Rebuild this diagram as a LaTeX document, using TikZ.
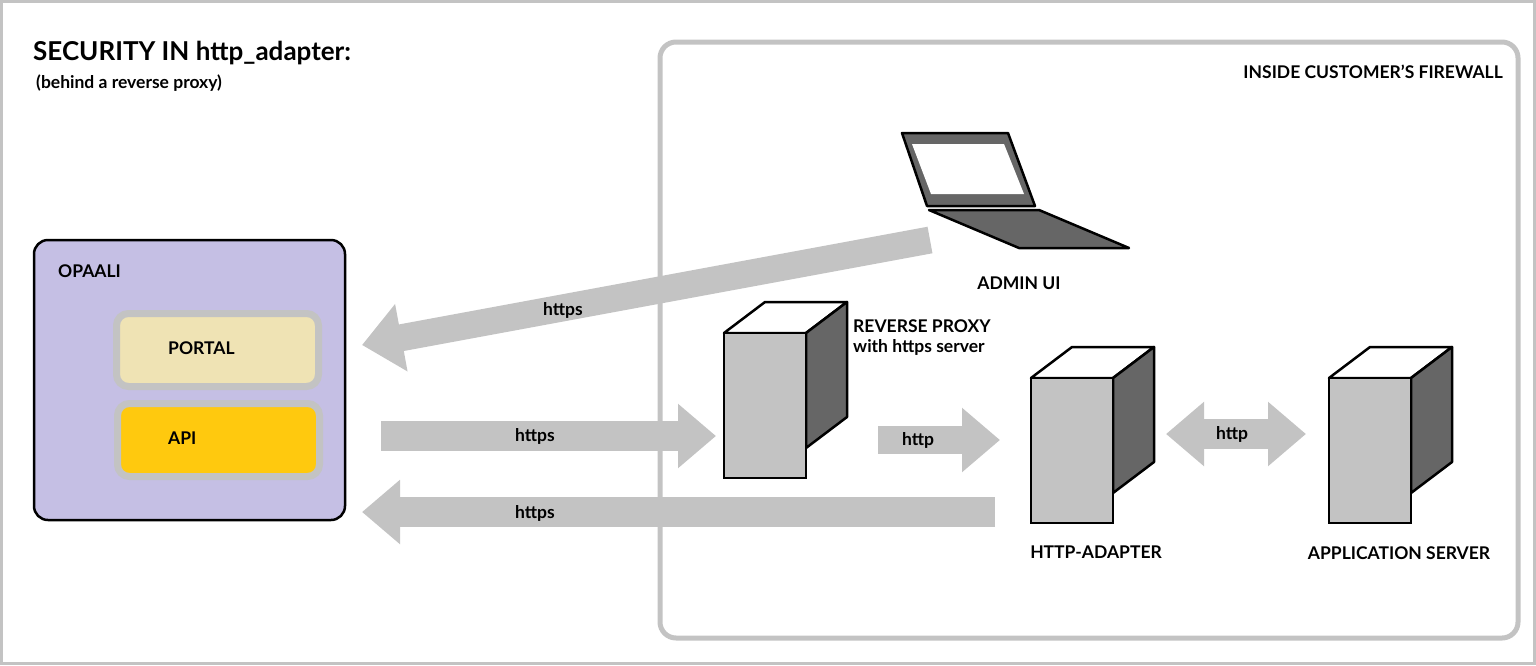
\documentclass[tikz,border=0pt]{standalone}
\usepackage{fontspec}
\setmainfont{Lato}
\usetikzlibrary{arrows.meta}
\definecolor{ag}{HTML}{C3C3C3}
\definecolor{dk}{HTML}{666666}
\definecolor{lt}{HTML}{C3C3C3}
\begin{document}
\begin{tikzpicture}[x=1pt,y=-1pt,
 lbl/.style={font=\bfseries\fontsize{17.5}{20}\selectfont,inner sep=0pt},
 bar/.style={draw=ag,fill=ag,line width=30pt},
 rt/.style={-{Triangle[length=38pt,width=62pt]}},
 bt/.style={{Triangle[length=38pt,width=62pt]}-{Triangle[length=38pt,width=62pt]}}]
\useasboundingbox (0,0) rectangle (1536,665);
\draw[lt,line width=3pt] (1.5,1.5) rectangle (1534.5,663.5);
\draw[lt,line width=5pt,rounded corners=16pt] (660,42) rectangle (1518,638);
\node[lbl,anchor=east] (fw) at (1503,72) {INSIDE CUSTOMER'S FIREWALL};
\node[anchor=west,inner sep=0pt,font=\bfseries\fontsize{26}{30}\selectfont] (title) at (33,53) {SECURITY IN http\_adapter:};
\node[anchor=west,inner sep=0pt,font=\bfseries\fontsize{17.5}{20}\selectfont] (sub) at (36,83) {(behind a reverse proxy)};
% OPAALI
\draw[line width=2.5pt,fill={rgb,255:red,197;green,191;blue,228},rounded corners=14pt] (34,240) rectangle (345,520);
\node[lbl,anchor=west] (op) at (58,271) {OPAALI};
\draw[lt,line width=7pt,fill={rgb,255:red,239;green,227;blue,180},rounded corners=12pt] (116.5,313.5) rectangle (318.5,386.5);
\draw[lt,line width=7pt,fill={rgb,255:red,255;green,201;blue,14},rounded corners=12pt] (117.5,403.5) rectangle (319.5,476.5);
\node[lbl,anchor=west] (portal) at (168,348) {PORTAL};
\node[lbl,anchor=west] (api) at (168,438) {API};
% servers
\foreach \n/\x/\y in {proxy/724/333,adapter/1031/378,app/1329/378}{
 \draw[line width=2.5pt,line join=round,fill=white] (\x,\y) -- ++(41,-31) -- ++(82,0) -- ++(-41,31) -- cycle;
 \draw[line width=2.5pt,line join=round,fill=dk] (\x+82,\y) -- ++(41,-31) -- ++(0,115) -- ++(-41,31) -- cycle;
 \draw[line width=2.5pt,fill=lt] (\x,\y) rectangle ++(82,145);
 \coordinate (\n) at (\x,\y);
}
\node[lbl,anchor=west,align=left] (rp) at (853,338) {REVERSE PROXY\\[0pt]with https server};
\node[lbl] (ha) at (1096,552) {HTTP-ADAPTER};
\node[lbl] (as) at (1399,553) {APPLICATION SERVER};
% laptop
\draw[line width=2.5pt,line join=round,fill=dk] (902,133) -- (1008,133) -- (1035,206) -- (927,206) -- cycle;
\draw[draw=none,fill=white] (912,144) -- (1004,144) -- (1024,194) -- (931,194) -- cycle;
\draw[line width=2.5pt,line join=round,fill=dk] (929,210) -- (1039,210) -- (1129,248) -- (1019,248) -- cycle;
\node[lbl] (admin) at (1019,283) {ADMIN UI};
% arrows
\coordinate (a1s) at (930,240); \coordinate (a1e) at (362,345);
\draw[bar,line width=27pt,-{Triangle[length=40pt,width=66pt]}] (a1s) -- (a1e);
\coordinate (a2s) at (381,436); \coordinate (a2e) at (716,436);
\draw[bar,rt] (a2s) -- (a2e);
\coordinate (a3s) at (878,440); \coordinate (a3e) at (1000,440);
\draw[bar,line width=28pt,rt] (a3s) -- (a3e);
\coordinate (a4s) at (1166,434); \coordinate (a4e) at (1306,434);
\draw[bar,bt] (a4s) -- (a4e);
\coordinate (a5s) at (995,512); \coordinate (a5e) at (362,512);
\draw[bar,rt] (a5s) -- (a5e);
\node[lbl] (t1) at (563,310) {https};
\node[lbl] (t2) at (535,436) {https};
\node[lbl] (t3) at (918,440) {http};
\node[lbl] (t4) at (1232,434) {http};
\node[lbl] (t5) at (535,513) {https};
\end{tikzpicture}
\end{document}
